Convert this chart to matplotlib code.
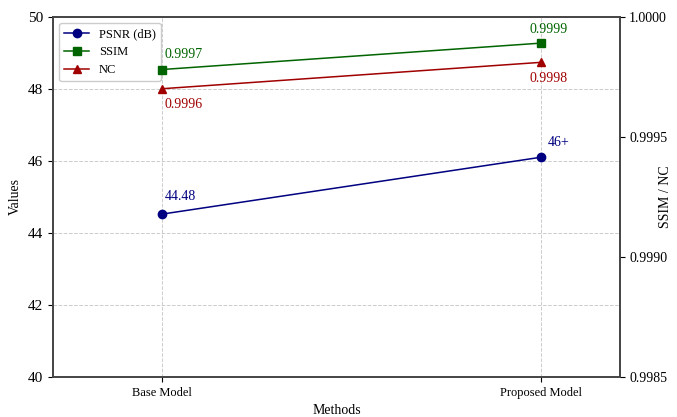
import matplotlib.pyplot as plt
import numpy as np

plt.rcParams['font.family'] = ['Liberation Serif', 'DejaVu Serif']

methods = ["Base Model", "Proposed Model"]
psnr = [44.52, 46.10]
ssim = [0.99978, 0.99989]
nc = [0.99970, 0.99981]
psnr_labels = ["44.48", "46+"]
ssim_labels = ["0.9997", "0.9999"]
nc_labels = ["0.9996", "0.9998"]

fig, ax = plt.subplots(figsize=(6.77, 4.17), dpi=100)
fig.subplots_adjust(left=0.078, right=0.916, top=0.96, bottom=0.096)
ax2 = ax.twinx()

x = np.arange(len(methods))
l1, = ax.plot(x, psnr, marker="o", color="#000080", lw=1.1, ms=6, label="PSNR (dB)")
l2, = ax2.plot(x, ssim, marker="s", color="#006400", lw=1.1, ms=6, label="SSIM")
l3, = ax2.plot(x, nc, marker="^", color="#a00000", lw=1.1, ms=6, label="NC")

ax.set_xlim(-0.288, 1.208)
ax.set_ylim(40, 50)
ax2.set_ylim(0.9985, 1.0)
ax.set_yticks([40, 42, 44, 46, 48, 50])
ax2.set_yticks([0.9985, 0.9990, 0.9995, 1.0000])
ax2.yaxis.set_major_formatter(plt.FormatStrFormatter('%.4f'))
ax.set_xticks(x)
ax.set_xticklabels(methods, fontsize=9)
ax.tick_params(axis='y', labelsize=11)
ax2.tick_params(axis='y', labelsize=10, pad=3)
ax.grid(True, linestyle="--", color="#cccccc", lw=0.7)
ax.set_xlabel("Methods", fontsize=10)
ax.set_ylabel("Values", fontsize=10)
ax2.set_ylabel("SSIM / NC", fontsize=10)
ax2.yaxis.set_label_coords(1.068, 0.5)
for a in (ax, ax2):
    for s in a.spines.values():
        s.set_color("#444444")
        s.set_linewidth(1.2)

# annotations
ax.annotate(psnr_labels[0], (x[0], psnr[0]), xytext=(2, 8), textcoords="offset points",
            color="#000080", fontsize=10, ha="left", va="bottom")
ax.annotate(psnr_labels[1], (x[1], psnr[1]), xytext=(5, 6), textcoords="offset points",
            color="#000080", fontsize=10, ha="left", va="bottom")
ax2.annotate(ssim_labels[0], (x[0], ssim[0]), xytext=(2, 6), textcoords="offset points",
             color="#006400", fontsize=10, ha="left", va="bottom")
ax2.annotate(ssim_labels[1], (x[1], ssim[1]), xytext=(5, 5), textcoords="offset points",
             color="#006400", fontsize=10, ha="center", va="bottom")
ax2.annotate(nc_labels[0], (x[0], nc[0]), xytext=(2, -7), textcoords="offset points",
             color="#a00000", fontsize=10, ha="left", va="top")
ax2.annotate(nc_labels[1], (x[1], nc[1]), xytext=(5, -7), textcoords="offset points",
             color="#a00000", fontsize=10, ha="center", va="top")

ax.legend(handles=[l1, l2, l3], loc="upper left", fontsize=9, framealpha=1,
          edgecolor="#cccccc", fancybox=True)

fig.savefig("out.png")
